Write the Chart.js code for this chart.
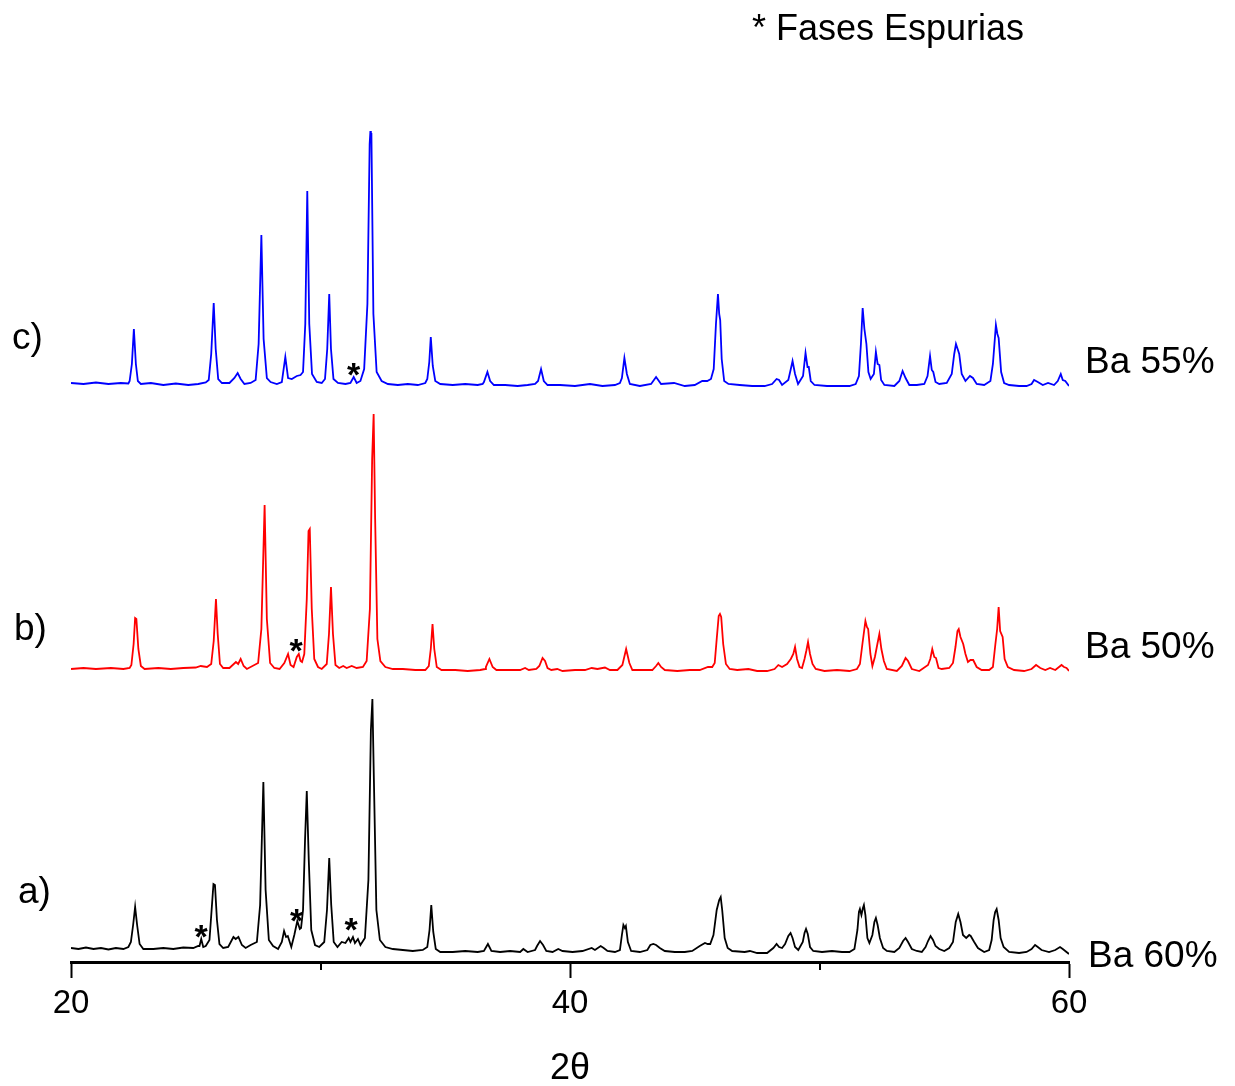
<!DOCTYPE html>
<html>
<head>
<meta charset="utf-8">
<script src="https://cdn.jsdelivr.net/npm/chart.js@4.4.1/dist/chart.umd.min.js"></script>
<style>
  html,body{margin:0;padding:0;background:#fff;}
  #wrap{width:1235px;height:1086px;}
</style>
</head>
<body>
<div id="wrap"><canvas id="xrd"></canvas></div>
<script>
// XRD patterns, 2θ (deg) vs intensity (a.u., relative to each pattern's own baseline)
const patternA = [ // Ba 60%
  [20.0,2],[20.3,1],[20.6,2.5],[20.9,1],[21.2,2],[21.5,0.5],[21.8,2],[22.1,1],[22.3,3],
  [22.40,8],[22.49,25],[22.57,43],[22.65,25],[22.75,6],[22.9,1],
  [23.3,1],[23.7,2],[24.1,1],[24.5,2.5],[24.9,2],[25.1,4],
  [25.15,4],[25.22,11],[25.3,3],[25.4,4],
  [25.55,10],[25.65,45],[25.71,66],[25.77,65],[25.85,30],[25.95,6],[26.1,2],[26.3,3],
  [26.51,13],[26.6,11],[26.71,13],[26.85,5],[27.0,2],[27.2,5],
  [27.45,8],[27.58,45],[27.71,168],[27.80,60],[27.93,10],[28.1,4],[28.3,1],
  [28.45,8],[28.54,19],[28.62,13],[28.69,14],[28.83,3],
  [28.95,15],[29.07,29],[29.17,21],[29.22,22],
  [29.30,40],[29.38,110],[29.45,159],[29.53,90],[29.63,20],[29.78,5],[29.95,3],
  [30.15,8],[30.26,40],[30.35,92],[30.43,45],[30.53,8],[30.68,3],
  [30.85,8],[31.0,7],[31.13,12],[31.2,8],[31.3,13],[31.38,7],[31.5,11],[31.6,5],
  [31.78,12],[31.92,70],[32.02,220],[32.08,251],[32.14,170],[32.24,40],[32.38,10],[32.6,3],
  [32.9,1],[33.3,0],[33.7,-1],[34.1,0],
  [34.28,3],[34.37,20],[34.44,45],[34.52,18],[34.62,1],[34.8,-2],
  [35.3,-2],[35.8,-1],[36.3,-2],[36.55,-1],[36.71,6],[36.85,-1],[37.2,-2],
  [37.6,-1],[38.0,-2],[38.13,1],[38.3,-2],[38.6,0],
  [38.68,4],[38.80,9],[38.92,5],[39.05,-1],[39.3,-2],[39.53,1],[39.7,-1],
  [40.1,-2],[40.5,-1],[40.87,2],[41.0,0],[41.23,4],[41.35,2],[41.5,-1],[41.8,-2],[42.0,0],
  [42.08,15],[42.14,25],[42.2,22],[42.24,24],[42.32,8],[42.45,-1],
  [42.8,-2],[43.1,0],[43.22,5],[43.34,6],[43.45,5],[43.6,2],[43.8,-1],[44.2,-2],[44.6,-2],[44.9,-1],[45.2,4],
  [45.41,7],[45.52,6],[45.62,6],[45.75,15],[45.88,40],[45.98,50],[46.04,53],[46.10,40],[46.2,12],[46.32,2],[46.5,-1],
  [47.0,-2],[47.21,-1],[47.5,-3],[47.9,-3],[48.15,2],[48.28,6],[48.38,3],[48.5,2],
  [48.62,6],[48.75,14],[48.84,17],[48.92,12],[49.02,3],[49.15,0],
  [49.33,8],[49.40,17],[49.46,21],[49.53,16],[49.62,3],[49.75,-1],[50.1,-2],[50.5,-1],[50.9,-2],
  [51.2,-2],[51.4,1],
  [51.52,20],[51.58,38],[51.62,41],[51.68,35],[51.74,42],[51.78,45],[51.84,35],[51.92,12],[52.0,7],
  [52.12,15],[52.20,28],[52.26,32],[52.33,25],[52.42,12],[52.55,2],[52.7,-1],
  [53.0,-2],[53.2,2],[53.35,9],[53.45,12],[53.55,8],[53.7,1],[53.9,-1],
  [54.1,-2],[54.25,3],[54.35,9],[54.45,14],[54.55,10],[54.65,4],[54.8,1],[55.0,-1],[55.2,2],
  [55.35,8],[55.46,28],[55.56,36],[55.65,28],[55.75,15],[55.88,12],[56.0,15],[56.06,14],[56.2,8],[56.35,2],[56.6,-2],[56.8,0],
  [56.9,10],[56.98,30],[57.04,38],[57.1,41],[57.18,30],[57.26,12],[57.38,3],[57.6,-2],
  [58.0,-3],[58.3,-2],[58.5,1],[58.64,5],[58.75,3],[58.9,0],[59.2,-2],[59.45,0],[59.64,3],[59.75,1],[59.9,-2],[60.0,-4]
];

const patternB = [ // Ba 50%
  [20.0,0],[20.5,1],[21.0,0],[21.6,1],[22.1,0],[22.35,1],
  [22.42,4],[22.51,25],[22.57,51],[22.62,50],[22.70,20],[22.80,3],[22.95,0],
  [23.5,1],[24.0,0],[24.5,1],[25.0,1.5],[25.2,3],[25.45,2],
  [25.62,5],[25.72,28],[25.81,70],[25.88,35],[25.97,5],[26.1,1],[26.35,1],
  [26.61,7],[26.70,5],[26.80,10],[26.92,3],[27.05,0],
  [27.50,6],[27.63,40],[27.76,164],[27.85,50],[27.98,6],[28.15,1],[28.36,0],
  [28.55,6],[28.70,15],[28.80,4],[28.92,2],[29.05,12],[29.13,15],[29.2,8],
  [29.26,7],[29.35,15],[29.45,70],[29.52,138],[29.57,140],[29.65,60],[29.75,10],[29.9,2],[30.05,0],
  [30.25,5],[30.34,35],[30.42,82],[30.50,35],[30.60,4],[30.75,1],[30.91,3],[31.05,1],[31.25,3],[31.45,1],[31.7,2],
  [31.85,8],[31.98,60],[32.07,210],[32.13,255],[32.19,150],[32.28,30],[32.40,8],[32.6,2],[32.9,0],
  [33.3,0],[33.8,-1],[34.2,-1],
  [34.34,3],[34.42,20],[34.49,45],[34.56,20],[34.66,2],[34.85,-1],
  [35.4,-1],[35.9,-2],[36.4,-1],[36.6,0],
  [36.63,2],[36.77,10],[36.90,2],[37.05,-1],
  [37.6,-1],[38.0,-1],[38.2,1],[38.35,-1],[38.65,0],
  [38.77,3],[38.90,11],[39.0,8],[39.1,1],[39.25,-1],[39.49,0],[39.7,-2],
  [40.2,-1],[40.6,-1],[40.87,1],[41.1,0],[41.4,1.5],[41.6,-1],[41.9,-1],
  [42.1,4],[42.25,20],[42.38,6],[42.5,-1],
  [42.9,-1],[43.3,-1],[43.45,3],[43.54,6],[43.65,2],[43.8,-1],
  [44.3,-2],[44.8,-1],[45.2,-1],[45.53,2],[45.7,2],[45.8,6],
  [45.88,30],[45.96,53],[46.01,55],[46.06,52],[46.14,25],[46.25,5],[46.4,0],
  [46.7,-1],[47.15,0],[47.5,-2],[47.9,-2],[48.2,0],[48.35,4],[48.5,2],[48.7,5],
  [48.85,10],[48.95,15],[49.02,22],[49.10,10],[49.2,2],[49.3,1],
  [49.40,10],[49.47,18],[49.54,27],[49.62,15],[49.72,5],[49.85,0],[50.2,-2],[50.7,-1],[51.2,-2],[51.5,0],
  [51.62,5],[51.72,25],[51.84,48],[51.90,42],[51.95,40],[52.04,15],[52.12,3],
  [52.22,12],[52.32,25],[52.40,35],[52.48,20],[52.58,8],[52.7,0],
  [53.1,-2],[53.3,3],[53.45,11],[53.55,8],[53.7,0],
  [54.0,-2],[54.35,4],
  [54.44,10],[54.52,20],[54.60,12],[54.67,11],[54.77,1],[54.9,0],[55.2,1],[55.35,6],
  [55.45,22],[55.53,38],[55.58,40],[55.65,32],[55.76,25],[55.85,15],[55.95,7],[56.05,9],[56.16,9],[56.3,2],[56.5,-1],
  [56.8,-1],[56.95,2],[57.05,25],
  [57.12,40],[57.18,62],[57.24,38],[57.34,32],[57.42,10],[57.55,2],[57.8,-1],
  [58.2,-2],[58.5,0],[58.68,4],[58.85,1],[59.05,-1],[59.24,1],[59.45,-1],[59.6,2],
  [59.70,4],[59.8,2],[59.9,1],[60.0,-2]
];

const patternC = [ // Ba 55%
  [20.0,1],[20.5,0],[21.0,1.5],[21.5,0],[22.0,1],[22.3,0.5],
  [22.35,3],[22.44,20],[22.52,55],[22.60,20],[22.68,3],[22.8,0],
  [23.2,1],[23.7,-1],[24.2,0.5],[24.7,-1],[25.1,0],[25.4,1.5],
  [25.52,4],[25.62,30],[25.72,81],[25.80,35],[25.90,5],[26.05,1],
  [26.35,1],[26.55,6],[26.68,11],[26.80,5],[26.95,0],[27.2,1],
  [27.40,4],[27.52,40],[27.63,149],[27.72,45],[27.85,6],[28.0,2],[28.25,0],
  [28.45,2],[28.59,27],[28.70,6],[28.85,5],[29.05,8],[29.2,9],
  [29.30,12],[29.39,60],[29.47,193],[29.55,60],[29.66,10],[29.85,2],[30.05,1],
  [30.18,5],[30.27,35],[30.35,90],[30.42,35],[30.52,5],[30.7,1],[31.0,0],[31.2,1],
  [31.33,7],[31.45,1],[31.6,3],
  [31.75,15],[31.88,80],[31.97,240],[32.0,253],[32.02,246],[32.04,251],[32.12,70],[32.25,12],[32.45,3],[32.7,0],
  [33.1,-1],[33.5,0],[33.9,-1],[34.2,1],
  [34.28,5],[34.36,22],[34.42,47],[34.50,18],[34.60,3],[34.8,0],
  [35.3,-1],[35.8,0],[36.3,-1],[36.5,0],
  [36.55,2],[36.69,12],[36.80,3],[36.95,-1],
  [37.4,-1],[37.9,-2],[38.3,-1],[38.6,0],
  [38.72,3],[38.84,15],[38.95,3],[39.1,-1],
  [39.6,-1],[40.2,-2],[40.8,0],[41.3,-2],[41.8,-1],[42.0,1],
  [42.08,6],[42.18,26],[42.28,10],[42.4,0],
  [42.8,-2],[43.25,0],[43.45,7],[43.65,0],[44.17,1],[44.6,-2],[45.0,-1],[45.3,3],[45.5,3],[45.65,5],
  [45.76,15],[45.85,60],[45.93,90],[45.98,70],[46.02,64],[46.08,25],[46.18,3],[46.35,0],
  [46.8,-1],[47.3,-2],[47.8,-2],[48.1,0],[48.28,5],[48.38,4],[48.5,-1],
  [48.75,4],[48.85,15],[48.92,23],[49.02,10],[49.14,0],
  [49.34,8],[49.44,31],[49.52,17],[49.57,17],[49.65,3],[49.8,-1],
  [50.3,-2],[50.8,-2],[51.2,-2],[51.45,0],
  [51.58,8],[51.66,40],[51.73,76],[51.80,55],[51.88,40],[51.96,12],[52.05,5],
  [52.18,10],[52.26,32],[52.33,20],[52.40,19],[52.47,4],[52.6,-1],
  [53.0,-2],[53.2,3],[53.33,13],[53.45,6],[53.6,-1],
  [53.9,-1],[54.2,0],[54.33,8],
  [54.43,28],[54.50,14],[54.56,12],[54.65,2],[54.8,0],
  [55.1,1],[55.3,10],
  [55.40,30],[55.47,40],[55.55,34],[55.60,30],[55.70,10],[55.85,3],[56.03,8],[56.15,6],[56.3,0],
  [56.6,-1],[56.85,3],[56.95,20],
  [57.07,59],[57.13,50],[57.18,46],[57.28,12],[57.4,1],[57.6,-1],
  [58.0,-2],[58.3,-2],[58.5,0],[58.6,4],[58.75,2],[58.95,-1],[59.16,1],[59.4,-1],[59.55,3],
  [59.67,10],[59.75,4],[59.85,3],[60.0,-2]
];

// vertical stacking of the three patterns
const offsets = [12, 293, 578];
const sampleLabels = ['a)', 'b)', 'c)'];
const compositions = ['Ba 60%', 'Ba 50%', 'Ba 55%'];
const colors = ['#000000', '#ff0000', '#0000ff'];

// spurious-phase markers [2θ, intensity above the pattern baseline]
const starsA = [[25.22, 21], [29.04, 37], [31.23, 28]];
const starsB = [[29.02, 26]];
const starsC = [[31.33, 17]];

const xTicks = [20, 30, 40, 50, 60];

const patterns = [patternA, patternB, patternC];
const stars = [starsA, starsB, starsC];

const datasets = patterns.map((p, i) => ({
  label: compositions[i],
  data: p.map(([x, y]) => ({x: x, y: y + offsets[i]})),
  borderColor: colors[i],
  borderWidth: 1.8,
  pointRadius: 0,
  showLine: true,
  fill: false,
  tension: 0
}));

const labelsPlugin = {
  id: 'xrdLabels',
  afterDraw(chart) {
    const c = chart.ctx, xs = chart.scales.x, ys = chart.scales.y;
    c.save();
    c.fillStyle = '#000';
    c.textBaseline = 'alphabetic';

    // minor ticks
    c.strokeStyle = '#000';
    c.lineWidth = 2;
    xTicks.filter(v => v % 20 !== 0).forEach(v => {
      const px = Math.round(xs.getPixelForValue(v));
      c.beginPath();
      c.moveTo(px, chart.chartArea.bottom);
      c.lineTo(px, chart.chartArea.bottom + 8);
      c.stroke();
    });

    c.font = '36px "Liberation Sans", Arial, sans-serif';
    c.textAlign = 'left';
    c.fillText('* Fases Espurias', 752, 40);

    const leftPos = [[18, 903], [14, 640], [12, 349]];
    const rightPos = [[1088, 967], [1085, 658], [1085, 373]];
    c.font = '37px "Liberation Sans", Arial, sans-serif';
    for (let i = 0; i < 3; i++) {
      c.fillText(sampleLabels[i], leftPos[i][0], leftPos[i][1]);
      c.fillText(compositions[i], rightPos[i][0], rightPos[i][1]);
    }

    c.font = 'bold 34px "Liberation Sans", Arial, sans-serif';
    c.textAlign = 'center';
    stars.forEach((list, i) => {
      list.forEach(([x, y]) => {
        c.fillText('*', xs.getPixelForValue(x), ys.getPixelForValue(y + offsets[i]) + 19);
      });
    });
    c.restore();
  }
};

new Chart(document.getElementById('xrd'), {
  type: 'scatter',
  data: {datasets: datasets},
  options: {
    responsive: true,
    maintainAspectRatio: false,
    animation: false,
    layout: {padding: {left: 71, right: 166, top: 0, bottom: 0}},
    plugins: {legend: {display: false}, tooltip: {enabled: false}},
    scales: {
      x: {
        type: 'linear', min: 20, max: 60,
        afterBuildTicks: s => { s.ticks = xTicks.map(v => ({value: v})); },
        afterFit: s => { s.height = 124; },
        border: {display: true, color: '#000', width: 3},
        grid: {
          drawOnChartArea: false, drawTicks: true, tickLength: 16, tickWidth: 2,
          tickColor: ctx => (ctx.tick && ctx.tick.value % 20 === 0) ? '#000' : 'rgba(0,0,0,0)'
        },
        ticks: {
          color: '#000', padding: 6, maxRotation: 0, autoSkip: false,
          font: {family: '"Liberation Sans", Arial', size: 33},
          callback: v => (v % 20 === 0 ? String(v) : '')
        },
        title: {
          display: true, text: '2θ', color: '#000', padding: {top: 0, bottom: -5},
          font: {family: '"Liberation Sans", Arial', size: 36}
        }
      },
      y: {display: false, min: 0, max: 962}
    }
  },
  plugins: [labelsPlugin]
});
</script>
</body>
</html>
